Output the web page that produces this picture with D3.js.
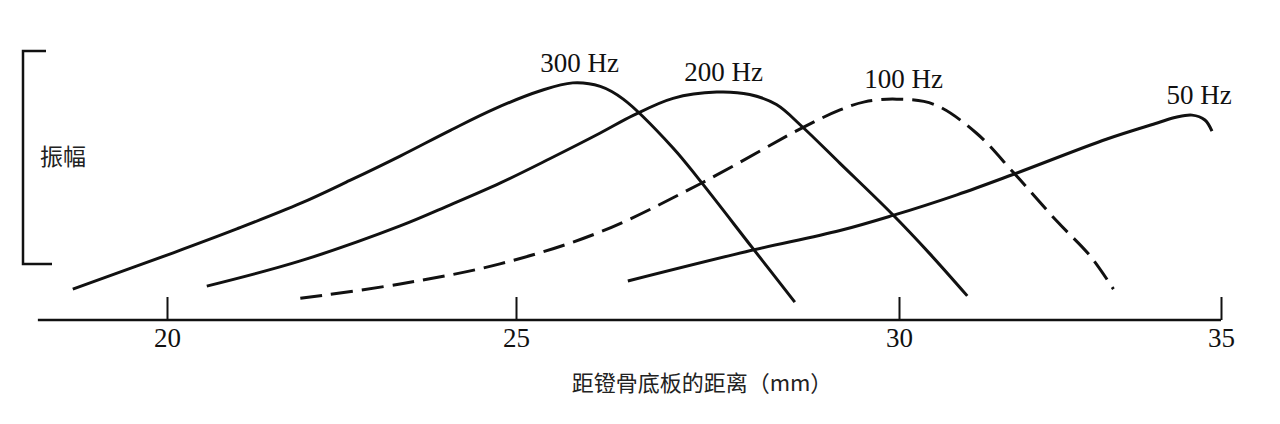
<!DOCTYPE html>
<html>
<head>
<meta charset="utf-8">
<script src="https://cdn.jsdelivr.net/npm/d3@7"></script>
<style>
  html, body { margin: 0; padding: 0; background: #fff; }
  svg { display: block; }
</style>
</head>
<body>
<svg id="chart" width="1280" height="424"></svg>
<script>
// ---- data (distance from stapes footplate in mm, relative amplitude 0..1) ----
const xTicks = [20, 25, 30, 35];
const xTitle = "距镫骨底板的距离（mm）";
const yTitle = "振幅";

const seriesNames = ["300 Hz", "200 Hz", "100 Hz", "50 Hz"];

const hz300 = [
  [18.65, 0.114], [20.09, 0.248], [21.00, 0.336], [21.91, 0.430], [22.62, 0.515],
  [23.34, 0.605], [24.06, 0.700], [24.70, 0.780], [25.31, 0.845], [25.74, 0.875],
  [26.10, 0.862], [26.40, 0.815], [27.05, 0.635], [27.40, 0.515], [28.09, 0.265],
  [28.64, 0.066]
];
const hz200 = [
  [20.57, 0.125], [21.91, 0.218], [23.34, 0.347], [24.06, 0.425], [24.77, 0.505],
  [25.44, 0.595], [26.10, 0.690], [26.53, 0.755], [27.05, 0.818], [27.62, 0.841],
  [28.05, 0.832], [28.40, 0.795], [28.73, 0.715], [29.23, 0.578], [29.91, 0.391],
  [30.48, 0.244], [31.06, 0.089]
];
const hz100 = [
  [21.91, 0.080], [23.34, 0.133], [24.77, 0.207], [26.10, 0.325], [27.40, 0.502],
  [28.73, 0.708], [29.23, 0.775], [29.55, 0.805], [29.97, 0.815], [30.55, 0.795],
  [31.20, 0.690], [31.77, 0.546], [32.45, 0.365], [32.97, 0.236], [33.33, 0.114]
];
const hz50 = [
  [26.46, 0.144], [28.00, 0.252], [29.23, 0.330], [29.91, 0.385], [30.90, 0.462],
  [31.77, 0.537], [33.23, 0.668], [34.01, 0.727], [34.30, 0.748], [34.55, 0.756],
  [34.75, 0.738], [34.86, 0.697]
];
const seriesData = [hz300, hz200, hz100, hz50];
const seriesDashed = [false, false, true, false];
const xAxisStart = 18.15;

// ---- layout ----
const svg = d3.select("#chart");
const axisY = 320;

// hand-drawn figure: tick spacing is not uniform, so use a polylinear scale
const x = d3.scaleLinear().domain(xTicks).range([167, 516, 899, 1221]);
const y = d3.scaleLinear().domain([0, 1]).range([axisY, 49]);

const serif = "'Liberation Serif', 'DejaVu Serif', serif";
const cjk = "'Noto Sans CJK SC', 'Noto Sans', sans-serif";

// x axis baseline
svg.append("line")
  .attr("x1", x(xAxisStart)).attr("x2", x(xTicks[xTicks.length - 1]))
  .attr("y1", axisY).attr("y2", axisY)
  .attr("stroke", "#111").attr("stroke-width", 2.5);

const axis = d3.axisBottom(x).tickValues(xTicks).tickSize(-23).tickSizeOuter(0).tickPadding(8);
const gAxis = svg.append("g").attr("transform", `translate(0,${axisY})`).call(axis);
gAxis.select(".domain").remove();
gAxis.selectAll(".tick line").attr("stroke", "#111").attr("stroke-width", 2);
gAxis.selectAll(".tick text")
  .attr("fill", "#111")
  .style("font-family", serif)
  .style("font-size", "27px");

// x title
svg.append("text")
  .attr("x", 702).attr("y", 391)
  .attr("text-anchor", "middle")
  .style("font-family", cjk).style("font-size", "22px")
  .attr("fill", "#222")
  .text(xTitle);

// y bracket + title
svg.append("path")
  .attr("d", "M46,51 H23 V264 H52")
  .attr("fill", "none").attr("stroke", "#111").attr("stroke-width", 2.5);
svg.append("text")
  .attr("x", 40).attr("y", 165)
  .style("font-family", cjk).style("font-size", "23px")
  .attr("fill", "#222")
  .text(yTitle);

// curves
const line = d3.line()
  .x(d => x(d[0])).y(d => y(d[1]))
  .curve(d3.curveCatmullRom.alpha(0.5));

seriesData.forEach((data, i) => {
  svg.append("path")
    .datum(data)
    .attr("d", line)
    .attr("fill", "none")
    .attr("stroke", "#111")
    .attr("stroke-width", 3)
    .attr("stroke-linecap", "butt")
    .attr("stroke-dasharray", seriesDashed[i] ? "22,9" : null);

  const peak = data.reduce((a, b) => (b[1] > a[1] ? b : a));
  svg.append("text")
    .attr("x", x(peak[0]) + 7)
    .attr("y", y(peak[1]) - 11)
    .attr("text-anchor", "middle")
    .style("font-family", serif).style("font-size", "27px")
    .attr("fill", "#111")
    .text(seriesNames[i]);
});
</script>
</body>
</html>
